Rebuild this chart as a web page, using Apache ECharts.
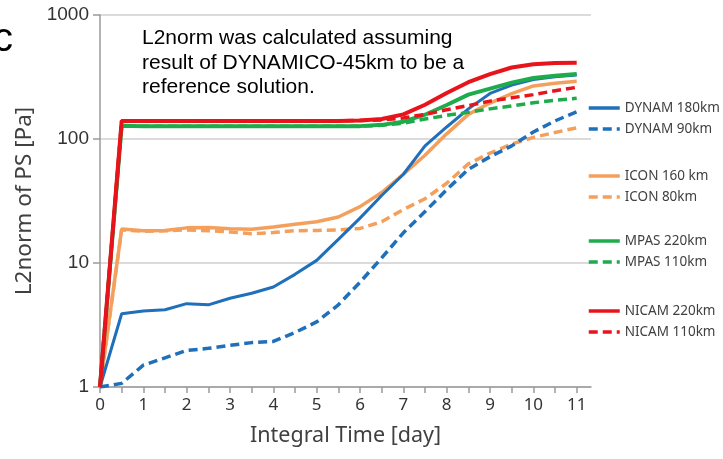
<!DOCTYPE html>
<html>
<head>
<meta charset="utf-8">
<script src="https://cdn.jsdelivr.net/npm/echarts@6/dist/echarts.min.js"></script>
<style>html,body{margin:0;padding:0;background:#fff}#c{width:723px;height:459px}</style>
</head>
<body>
<div id="c"></div>
<script>
// Time axis (days)
const days = [0,0.5,1,1.5,2,2.5,3,3.5,4,4.5,5,5.5,6,6.5,7,7.5,8,8.5,9,9.5,10,10.5,11];
const xLabelTicks = [0,1,2,3,4,5,6,7,8,9,10,11];
const xMinorTicks = [0,0.5,1,1.5,2,2.5,3,3.5,4,4.5,5,5.5,6,6.5,7,7.5,8,8.5,9,9.5,10,10.5,11];
const yTicks = [1,10,100,1000];

// L2norm of PS [Pa]
const dynam180 = [1,3.9,4.1,4.2,4.7,4.6,5.2,5.7,6.4,8.1,10.5,15.5,23,35,52,88,125,175,233,272,302,318,328];
const dynam90  = [1,1.07,1.5,1.72,1.97,2.05,2.17,2.28,2.33,2.75,3.35,4.6,7.0,11,17.5,26,39,57,72,88,114,140,166];
const icon160  = [1,18.8,18.2,18.3,19.2,19.3,18.9,18.7,19.5,20.5,21.5,23.5,28.5,37,52,74,110,158,195,232,268,282,292];
const icon80   = [1,18.5,18.0,18.2,18.5,18.2,17.8,17.2,17.6,18.2,18.3,18.5,19,21.5,27,33,44,63,77,91,103,113,123];
const mpas220  = [1,128,127,127,127,127,127,127,127,127,127,127,127,130,138,157,188,228,255,285,310,324,334];
const mpas110  = [1,127,127,127,127,127,127,127,127,127,127,127,127,129,134,145,155,164,175,185,196,205,213];
const nicam220 = [1,140,140,140,140,140,140,140,140,140,140,140,141,145,158,189,235,287,334,377,400,410,412];
const nicam110 = [1,140,140,140,140,140,140,140,140,140,140,140,141,142,148,158,172,186,202,215,228,245,261];

const BLUE='#1f6fba', ORANGE='#f4a05c', GREEN='#1eab4b', RED='#e8141b';
const pairs = arr => days.map((d,i)=>[d,arr[i]]);
function mk(name, arr, color, width, dashed){
  return {
    name, type:'line', data:pairs(arr), symbol:'none', smooth:false,
    lineStyle:{color, width, type: dashed ? [9,5] : 'solid', cap:'butt'},
    itemStyle:{color}, emphasis:{disabled:true}
  };
}
const legendBase = {
  orient:'vertical', left:587, padding:0, itemWidth:31, itemHeight:14, itemGap:7,
  itemStyle:{opacity:0},
  lineStyle:{width:3.5},
  textStyle:{fontFamily:'Noto Sans', fontSize:13.5, color:'#404040'},
  selectedMode:false
};

const chart = echarts.init(document.getElementById('c'), null, {renderer:'canvas'});
chart.setOption({
  animation:false,
  grid:{left:100, right:132, top:15, bottom:72, containLabel:false},
  xAxis:{
    type:'value', min:0, max:11.33,
    name:'Integral Time [day]', nameLocation:'middle', nameGap:38,
    nameTextStyle:{fontFamily:'Noto Sans', fontSize:21.5, color:'#404040'},
    axisLine:{show:true, lineStyle:{color:'#9a9a9a', width:1.5}},
    axisTick:{show:true, inside:false, length:6, customValues:xMinorTicks, lineStyle:{color:'#9a9a9a', width:1.5}},
    axisLabel:{customValues:xLabelTicks, margin:10, fontFamily:'Noto Sans', fontSize:17, color:'#333'},
    splitLine:{show:false}
  },
  yAxis:{
    type:'log', logBase:10, min:1, max:1000,
    name:'L2norm of PS [Pa]', nameLocation:'middle', nameGap:56, nameRotate:90,
    nameTextStyle:{fontFamily:'Noto Sans', fontSize:22.5, color:'#404040'},
    axisLine:{show:true, lineStyle:{color:'#9a9a9a', width:1.5}},
    axisTick:{show:true, inside:false, length:7, customValues:yTicks, lineStyle:{color:'#9a9a9a', width:1.5}},
    axisLabel:{customValues:yTicks, margin:11, fontFamily:'Liberation Sans', fontSize:19, color:'#333',
               formatter: v => String(Math.round(v))},
    splitLine:{show:true, lineStyle:{color:'#cfcfcf', width:1.5}}
  },
  legend:[
    Object.assign({}, legendBase, {top:101, data:['DYNAM 180km','DYNAM 90km']}),
    Object.assign({}, legendBase, {top:169, data:['ICON 160 km','ICON 80km']}),
    Object.assign({}, legendBase, {top:234, data:['MPAS 220km','MPAS 110km']}),
    Object.assign({}, legendBase, {top:304, data:['NICAM 220km','NICAM 110km']})
  ],
  graphic:[
    {type:'text', left:142, top:26, silent:true,
     style:{text:'L2norm was calculated assuming\nresult of DYNAMICO-45km to be a\nreference solution.',
            fontFamily:'Liberation Sans', fontSize:21, lineHeight:24.5, fill:'#000'}},
    {type:'text', left:-7, top:20, silent:true,
     style:{text:'c', fontFamily:'Liberation Sans', fontSize:40, fill:'#000'}}
  ],
  series:[
    mk('ICON 160 km', icon160, ORANGE, 3.5, false),
    mk('ICON 80km', icon80, ORANGE, 3.5, true),
    mk('DYNAM 90km', dynam90, BLUE, 3.5, true),
    mk('DYNAM 180km', dynam180, BLUE, 3, false),
    mk('MPAS 220km', mpas220, GREEN, 4, false),
    mk('MPAS 110km', mpas110, GREEN, 3.5, true),
    mk('NICAM 220km', nicam220, RED, 4, false),
    mk('NICAM 110km', nicam110, RED, 3.5, true)
  ]
});
</script>
</body>
</html>
